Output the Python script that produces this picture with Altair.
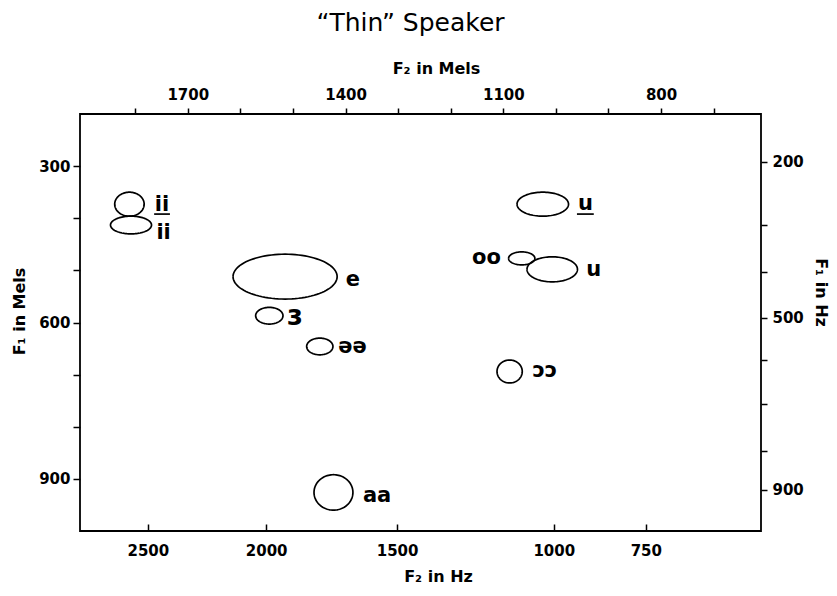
import altair as alt
import numpy as np
import pandas as pd

# ---------------- data (all positions in mels) ----------------
vowel_ids = ["ii_u", "ii", "e", "eps", "schwa", "u_u", "oo", "u", "open_o", "aa"]
vowel_labels = ["ii", "ii", "e", "ɜ", "əə", "u", "oo", "u", "ɔɔ", "aa"]
f2_center = [1811, 1808, 1515, 1545, 1449, 1025, 1065, 1007, 1088, 1423]
f1_center = [373, 413, 512, 587, 646, 373, 477, 498, 694, 926]
f2_radius = [28, 39, 99, 26, 25, 49, 25, 48, 24, 37]
f1_radius = [23, 17, 43, 16, 16, 23, 12.5, 24, 22, 34]
label_f2 = [1749, 1746, 1386, 1497, 1387, 944, 1132, 928, 1021, 1340]
label_f1 = [375, 428, 518, 588, 647, 373, 476, 499, 693, 933]

underline_ids = ["ii_u", "u_u"]
underline_f2_start = [1764, 960]
underline_f2_end = [1734, 928]
underline_f1 = [392, 392]

# axes
mel_top_ticks = [1800, 1700, 1600, 1500, 1400, 1300, 1200, 1100, 1000, 900, 800, 700]
mel_top_labels = [1700, 1400, 1100, 800]
hz_bottom_pos = [1776, 1551, 1302, 1004, 829]
hz_bottom_labels = ["2500", "2000", "1500", "1000", "750"]
mel_left_ticks = [300, 400, 500, 600, 700, 800, 900]
mel_left_labels = [300, 600, 900]
hz_right_pos = [292, 413, 503, 591, 672, 756, 846, 921]
hz_right_labels = ["200", "", "", "500", "", "", "", "900"]

x_domain = [610, 1905]
y_domain = [200, 1000]

# ---------------- build tables ----------------
rows = []
t = np.linspace(0, 2 * np.pi, 97)
for vid, cx, cy, rx, ry in zip(vowel_ids, f2_center, f1_center, f2_radius, f1_radius):
    for k, a in enumerate(t):
        rows.append({"id": vid, "k": k, "f2": cx + rx * np.cos(a), "f1": cy + ry * np.sin(a)})
ell_df = pd.DataFrame(rows)
lab_df = pd.DataFrame({"id": vowel_ids, "label": vowel_labels, "f2": label_f2, "f1": label_f1})
ul_df = pd.DataFrame({"id": underline_ids, "x1": underline_f2_start, "x2": underline_f2_end, "y": underline_f1})


def map_expr(pos, labels):
    expr = "''"
    for p, l in reversed(list(zip(pos, labels))):
        expr = f"datum.value == {p} ? '{l}' : ({expr})"
    return expr


FONT = "DejaVu Sans"
common = dict(labelFont=FONT, labelFontSize=15, labelFontWeight="bold", labelColor="black",
              tickColor="black", tickWidth=1.5, grid=False, labelOverlap=False, labelFlush=False,
              titleFont=FONT, titleFontSize=16, titleFontWeight="bold", titleColor="black",
              titleBaseline="middle", titleAlign="center")

x_scale = alt.Scale(domain=x_domain, reverse=True, nice=False, zero=False)
y_scale = alt.Scale(domain=y_domain, reverse=True, nice=False, zero=False)

bottom_axis = alt.Axis(orient="bottom", values=hz_bottom_pos,
                       labelExpr=map_expr(hz_bottom_pos, hz_bottom_labels),
                       offset=-7, domain=False, tickSize=7, labelPadding=12,
                       title="F₂ in Hz", titleX=358, titleY=52, **common)
top_axis = alt.Axis(orient="top", values=mel_top_ticks, format="d",
                    labelExpr="indexof(" + str(mel_top_labels) + ", datum.value) >= 0 ? datum.label : ''",
                    domain=False, tickSize=6, labelPadding=6,
                    title="F₂ in Mels", titleX=356, titleY=-46, **common)
left_axis = alt.Axis(orient="left", values=mel_left_ticks, format="d",
                     labelExpr="indexof(" + str(mel_left_labels) + ", datum.value) >= 0 ? datum.label : ''",
                     domain=False, tickSize=7, labelPadding=3,
                     title="F₁ in Mels", titleX=-61, titleY=197, titleAngle=270, **common)
right_axis = alt.Axis(orient="right", values=hz_right_pos,
                      labelExpr=map_expr(hz_right_pos, hz_right_labels),
                      domain=False, tickSize=6, labelPadding=5,
                      title="F₁ in Hz", titleX=59, titleY=178, titleAngle=90, **common)

ellipses = alt.Chart(ell_df).mark_line(color="black", strokeWidth=1.7).encode(
    x=alt.X("f2:Q", scale=x_scale, axis=bottom_axis),
    y=alt.Y("f1:Q", scale=y_scale, axis=left_axis),
    detail="id:N",
    order="k:Q",
)

labels = alt.Chart(lab_df).mark_text(font=FONT, fontWeight="bold", color="black",
                                      baseline="middle", align="center").encode(
    x=alt.X("f2:Q", scale=x_scale, axis=top_axis),
    y=alt.Y("f1:Q", scale=y_scale, axis=right_axis),
    text="label:N",
    size=alt.condition(alt.datum.label == "ɜ", alt.value(29), alt.value(21)),
)

underlines = alt.Chart(ul_df).mark_rule(color="black", strokeWidth=1.7).encode(
    x=alt.X("x1:Q", scale=x_scale, axis=None),
    x2="x2:Q",
    y=alt.Y("y:Q", scale=y_scale, axis=None),
)

chart = alt.layer(ellipses, labels, underlines).resolve_axis(
    x="independent", y="independent"
).properties(
    width=681, height=417,
    background="white",
    autosize=alt.AutoSizeParams(type="none"),
    padding={"left": 72, "top": 106, "right": 68, "bottom": 57},
    title=alt.TitleParams("\u201CThin\u201D Speaker", font=FONT, fontSize=25, fontWeight="normal",
                          color="black", dx=-10, dy=-20),
).configure_view(stroke="black", strokeWidth=1.8)

chart.save("out.html", embed_options={"renderer": "svg", "actions": False})
